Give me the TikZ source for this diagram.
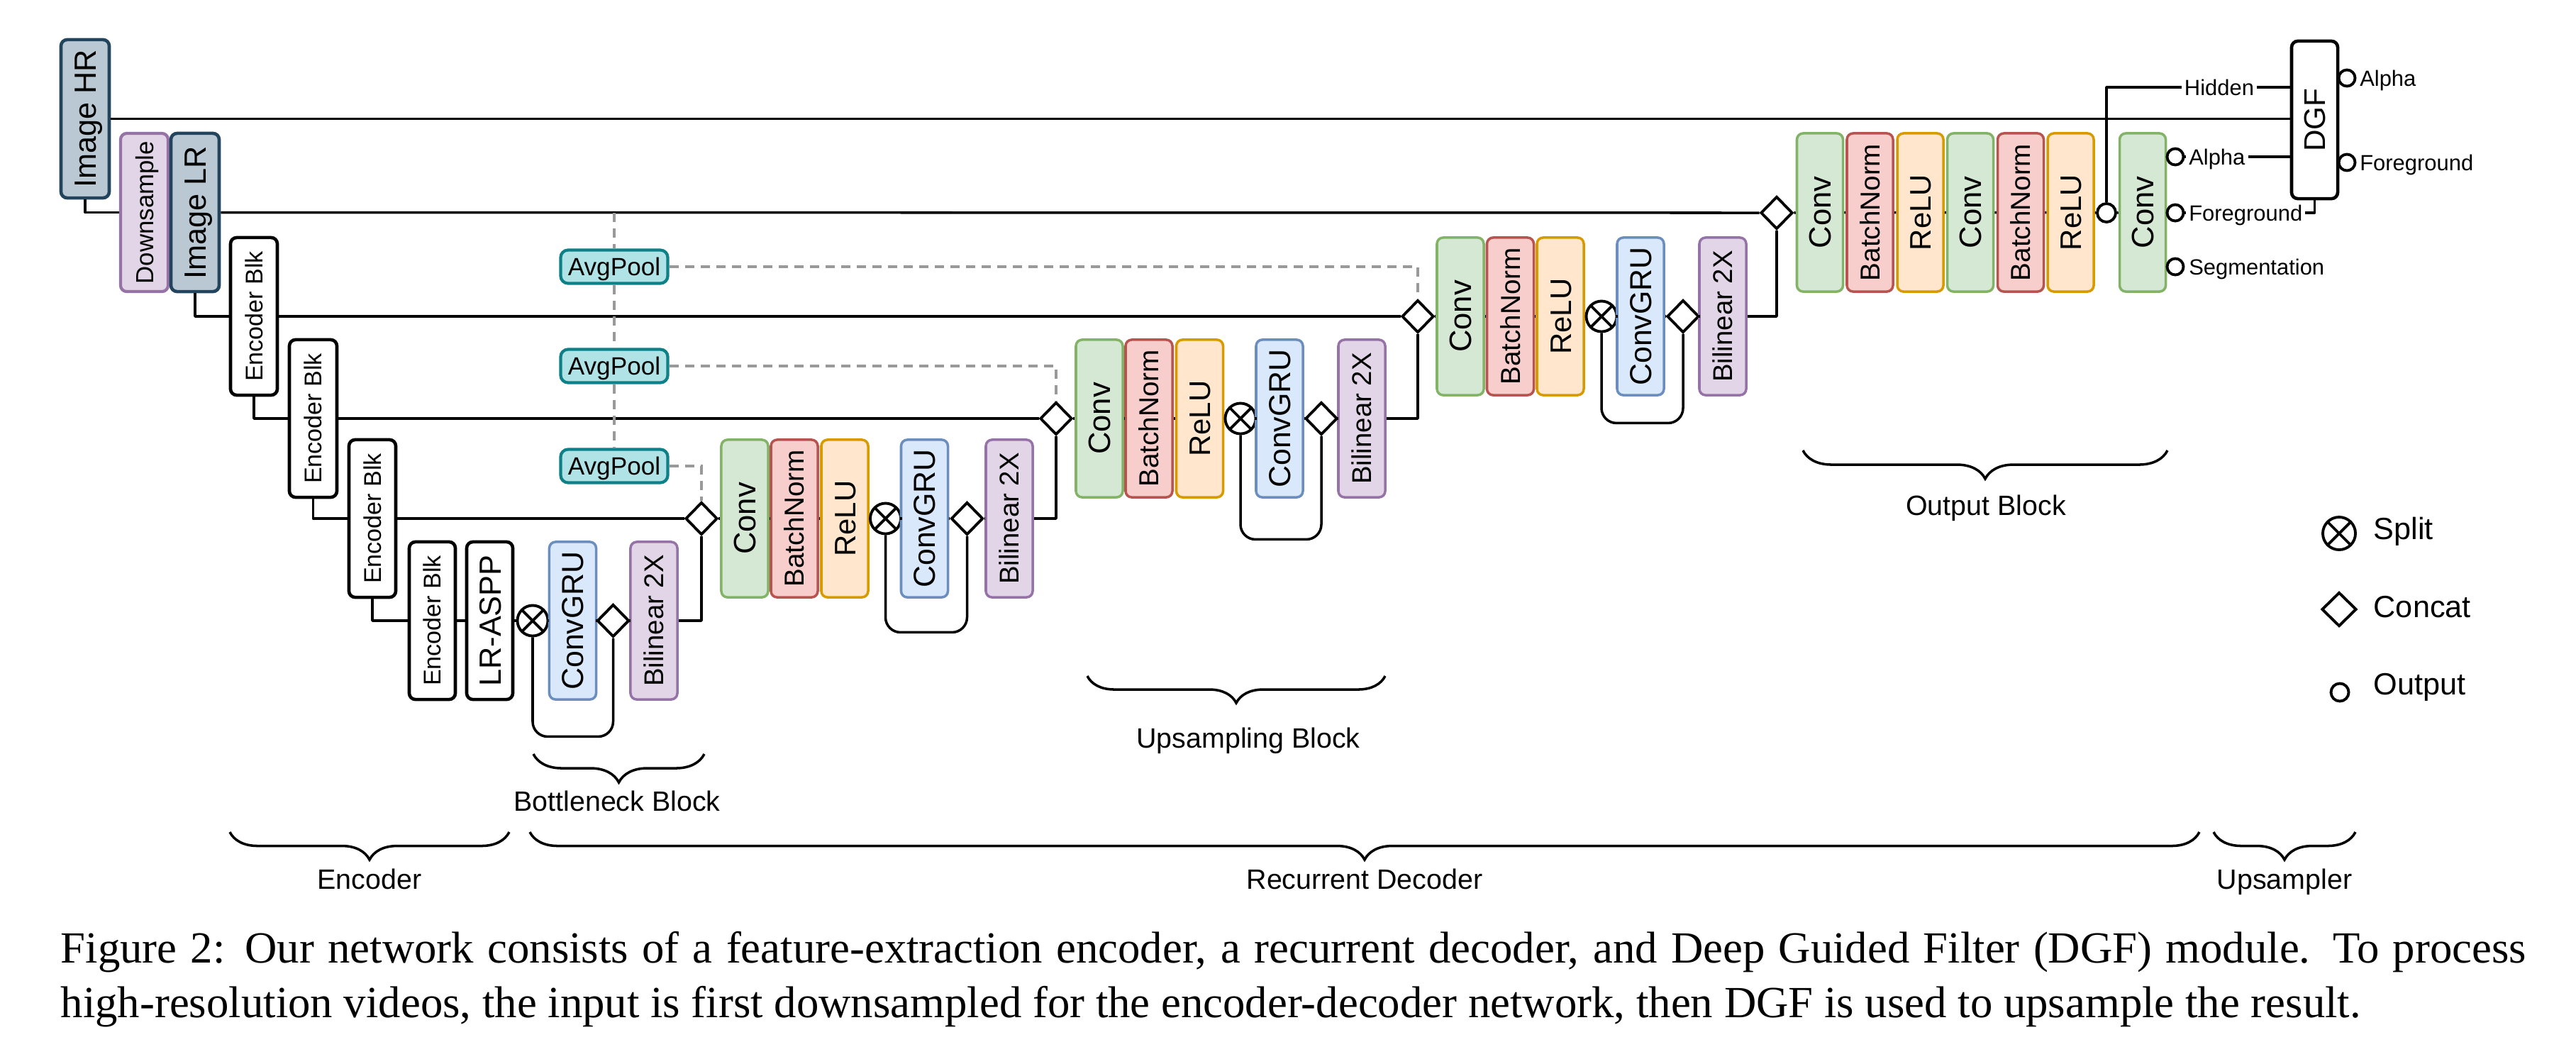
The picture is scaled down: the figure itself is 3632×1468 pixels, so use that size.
\documentclass[tikz,border=0pt]{standalone}
\usepackage{fontspec}
\setmainfont{Liberation Sans}
\newfontfamily\serifcap{Liberation Serif}
\usetikzlibrary{shapes.geometric,decorations.pathreplacing}
\definecolor{imgfill}{HTML}{BAC8D3}\definecolor{imgdraw}{HTML}{23445D}
\definecolor{purfill}{HTML}{E1D5E7}\definecolor{purdraw}{HTML}{9673A6}
\definecolor{grnfill}{HTML}{D5E8D4}\definecolor{grndraw}{HTML}{82B366}
\definecolor{redfill}{HTML}{F8CECC}\definecolor{reddraw}{HTML}{B85450}
\definecolor{orgfill}{HTML}{FFE6CC}\definecolor{orgdraw}{HTML}{D79B00}
\definecolor{blufill}{HTML}{DAE8FC}\definecolor{bludraw}{HTML}{6C8EBF}
\definecolor{tealfill}{HTML}{B0E3E6}\definecolor{tealdraw}{HTML}{0E8088}
\definecolor{dashgray}{HTML}{999999}
\newcommand\fs[1]{\fontsize{#1}{#1}\selectfont}
\newcommand\vlab[1]{\rotatebox{90}{\raisebox{-.36em}[.36em][.36em]{#1}}}
\tikzset{
  wire/.style={line width=1pt, line join=round},
  dashwire/.style={draw=dashgray, line width=0.9pt, dash pattern=on 0.13cm off 0.09cm},
  blkbase/.style={draw, rounded corners=2.5pt, line width=1pt, inner sep=0pt, minimum width=0.66cm, minimum height=2.22cm},
  imgbox/.style={blkbase, fill=imgfill, draw=imgdraw, line width=1.3pt, minimum width=0.68cm, minimum height=2.23cm, font={\fs{12.3}}},
  downbox/.style={blkbase, fill=purfill, draw=purdraw, line width=1.2pt, minimum width=0.67cm, minimum height=2.23cm, font={\fs{9.9}}},
  encbox/.style={blkbase, fill=white, line width=1.3pt, font={\fs{9.7}}},
  aspbox/.style={blkbase, fill=white, line width=1.3pt, font={\fs{12.3}}},
  convbox/.style={blkbase, fill=grnfill, draw=grndraw, font={\fs{12.4}}},
  bnbox/.style={blkbase, fill=redfill, draw=reddraw, font={\fs{11}}},
  relubox/.style={blkbase, fill=orgfill, draw=orgdraw, font={\fs{11.9}}},
  grubox/.style={blkbase, fill=blufill, draw=bludraw, font={\fs{12.2}}},
  bilbox/.style={blkbase, fill=purfill, draw=purdraw, font={\fs{10.9}}},
  outbox/.style={minimum width=0.65cm, minimum height=2.23cm},
  avgbox/.style={draw=tealdraw, fill=tealfill, rounded corners=3pt, line width=1.2pt, inner sep=0pt, minimum width=1.51cm, minimum height=0.47cm, font={\fs{10}}, text height=.716em, text depth=0pt},
  splitnode/.style={circle, draw, line width=1.1pt, fill=white, inner sep=0pt, minimum size=0.43cm,
    path picture={\draw[line width=1.1pt] (path picture bounding box.center) ++(45:0.3cm) -- ++(225:0.6cm)
      (path picture bounding box.center) ++(135:0.3cm) -- ++(-45:0.6cm);}},
  concatnode/.style={diamond, draw, line width=1.1pt, fill=white, inner sep=0pt, minimum width=0.45cm, minimum height=0.46cm},
  outnode/.style={circle, draw, line width=1.1pt, fill=white, inner sep=0pt, minimum size=0.23cm},
  smalllbl/.style={font={\fs{8.8}}, inner sep=1pt},
  bracelbl/.style={font={\fs{11.2}}, inner sep=0pt, anchor=base},
  legendlbl/.style={font={\fs{12.3}}, inner sep=0pt, anchor=base west},
  bracedeco/.style={line width=1pt, decorate, decoration={brace, mirror, amplitude=#1}},
}
\begin{document}
\begin{tikzpicture}[x=0.01cm, y=-0.01cm]
\useasboundingbox (0,0) rectangle (3632,1468);

% ---------- inputs and encoder ----------
\node[imgbox] (hr) at (120,167.5) {\vlab{Image HR}};
\node[downbox] (ds) at (203.5,299.5) {\vlab{Downsample}};
\node[imgbox] (lr) at (275,299.5) {\vlab{Image LR}};
\node[encbox] (e1) at (358,446) {\vlab{Encoder Blk}};
\node[encbox, minimum width=0.67cm] (e2) at (441.5,590) {\vlab{Encoder Blk}};
\node[encbox] (e3) at (525,731) {\vlab{Encoder Blk}};
\node[encbox, minimum width=0.65cm] (e4) at (609.5,875) {\vlab{Encoder Blk}};
\node[aspbox, minimum width=0.65cm] (asp) at (690.5,875) {\vlab{LR-ASPP}};

% ---------- bottleneck ----------
\node[splitnode] (sb) at (751,875) {};
\node[grubox] (gb) at (807.5,875) {\vlab{ConvGRU}};
\node[concatnode] (cb) at (864.5,875) {};
\node[bilbox] (bb) at (922,875) {\vlab{Bilinear 2X}};

% ---------- decoder stage 1 ----------
\node[concatnode] (d1) at (989,731) {};
\node[convbox] (c1) at (1050,731) {\vlab{Conv}};
\node[bnbox] (n1) at (1120,731) {\vlab{BatchNorm}};
\node[relubox] (r1) at (1191,731) {\vlab{ReLU}};
\node[splitnode] (s1) at (1248.5,731) {};
\node[grubox] (g1) at (1303.5,731) {\vlab{ConvGRU}};
\node[concatnode] (k1) at (1363.5,731) {};
\node[bilbox] (b1) at (1423,731) {\vlab{Bilinear 2X}};

% ---------- decoder stage 2 ----------
\node[concatnode] (d2) at (1489,590) {};
\node[convbox] (c2) at (1550,590) {\vlab{Conv}};
\node[bnbox] (n2) at (1620,590) {\vlab{BatchNorm}};
\node[relubox] (r2) at (1691.5,590) {\vlab{ReLU}};
\node[splitnode] (s2) at (1749,590) {};
\node[grubox] (g2) at (1804,590) {\vlab{ConvGRU}};
\node[concatnode] (k2) at (1863,590) {};
\node[bilbox] (b2) at (1920,590) {\vlab{Bilinear 2X}};

% ---------- decoder stage 3 ----------
\node[concatnode] (d3) at (1999,446) {};
\node[convbox] (c3) at (2059,446) {\vlab{Conv}};
\node[bnbox] (n3) at (2129.5,446) {\vlab{BatchNorm}};
\node[relubox] (r3) at (2200,446) {\vlab{ReLU}};
\node[splitnode] (s3) at (2258,446) {};
\node[grubox] (g3) at (2313,446) {\vlab{ConvGRU}};
\node[concatnode] (k3) at (2373,446) {};
\node[bilbox] (b3) at (2429,446) {\vlab{Bilinear 2X}};

% ---------- output block ----------
\node[concatnode] (d4) at (2505,300) {};
\node[convbox, outbox] (oc1) at (2566,299.5) {\vlab{Conv}};
\node[bnbox, outbox] (ob1) at (2636.5,299.5) {\vlab{BatchNorm}};
\node[relubox, outbox] (or1) at (2707.5,299.5) {\vlab{ReLU}};
\node[convbox, outbox] (oc2) at (2778,299.5) {\vlab{Conv}};
\node[bnbox, outbox] (ob2) at (2849,299.5) {\vlab{BatchNorm}};
\node[relubox, outbox] (or2) at (2919.5,299.5) {\vlab{ReLU}};
\node[outnode, minimum size=0.26cm] (o1) at (2970,300) {};
\node[convbox, outbox] (oc3) at (3021,299.5) {\vlab{Conv}};

% ---------- DGF ----------
\node[blkbase, fill=white, line width=1.3pt, minimum width=0.65cm, font={\fs{12}}] (dgf) at (3263.5,169) {\vlab{DGF}};

% ---------- AvgPool ----------
\node[avgbox] (ap1) at (866,376) {AvgPool};
\node[avgbox] (ap2) at (866,516) {AvgPool};
\node[avgbox] (ap3) at (866,657) {AvgPool};
\coordinate (aptop) at (866,300);

% ---------- encoder wiring ----------
\draw[wire] (hr.south) |- (ds.west);
\draw[wire] (lr.south) |- (e1.west);
\draw[wire] (e1.south) |- (e2.west);
\draw[wire] (e2.south) |- (e3.west);
\draw[wire] (e3.south) |- (e4.west);
\draw[wire] (hr.east) -- (dgf.west |- hr.east);
\draw[wire] (lr.east) -- (d4.west);
\draw[wire] (e1.east) -- (d3.west);
\draw[wire] (e2.east) -- (d2.west);
\draw[wire] (e3.east) -- (d1.west);

% ---------- chains ----------
\draw[wire] (e4) -- (asp) -- (sb) -- (gb) -- (cb) -- (bb);
\draw[wire] (d1) -- (c1) -- (n1) -- (r1) -- (s1) -- (g1) -- (k1) -- (b1);
\draw[wire] (d2) -- (c2) -- (n2) -- (r2) -- (s2) -- (g2) -- (k2) -- (b2);
\draw[wire] (d3) -- (c3) -- (n3) -- (r3) -- (s3) -- (g3) -- (k3) -- (b3);
\draw[wire] (d4) -- (oc1) -- (ob1) -- (or1) -- (oc2) -- (ob2) -- (or2) -- (o1) -- (oc3);

% ---------- loops ----------
\draw[wire, rounded corners=6pt] (sb.south) -- ++(0,140) -| (cb.south);
\draw[wire, rounded corners=6pt] (s1.south) -- ++(0,137) -| (k1.south);
\draw[wire, rounded corners=6pt] (s2.south) -- ++(0,147) -| (k2.south);
\draw[wire, rounded corners=6pt] (s3.south) -- ++(0,127) -| (k3.south);

% ---------- up connections ----------
\draw[wire] (bb.east) -| (d1.south);
\draw[wire] (b1.east) -| (d2.south);
\draw[wire] (b2.east) -| (d3.south);
\draw[wire] (b3.east) -| (d4.south);

% ---------- dashed AvgPool ----------
\draw[dashwire] (aptop) -- (ap1.north);
\draw[dashwire] (ap1.south) -- (ap2.north);
\draw[dashwire] (ap2.south) -- (ap3.north);
\draw[dashwire] (ap1.east) -| (d3.north);
\draw[dashwire] (ap2.east) -| (d2.north);
\draw[dashwire] (ap3.east) -| (d1.north);

% ---------- outputs ----------
\node[smalllbl] (hid) at (3129,123) {Hidden};
\draw[wire] (o1.north) |- (hid.west);
\draw[wire] (hid.east) -- (dgf.west |- hid.east);

\node[outnode] (oa) at (3067,221) {};
\node[outnode] (of) at (3067,300) {};
\node[outnode] (os) at (3067,376) {};
\node[smalllbl, anchor=base west] (oal) at (3082,232) {Alpha};
\node[smalllbl, anchor=base west] (ofl) at (3082,311) {Foreground};
\node[smalllbl, anchor=base west] (osl) at (3082,387) {Segmentation};
\draw[wire] (oa.east) -- (oal.west |- oa.east);
\draw[wire] (of.east) -- (ofl.west |- of.east);
\draw[wire] (oal.east |- oa.east) -- (dgf.west |- oa.east);
\draw[wire] (ofl.east |- of.east) -| (dgf.south);

\node[outnode] (da) at (3309,110) {};
\node[outnode] (df) at (3309,229) {};
\node[smalllbl, anchor=base west] (dal) at (3323,121) {Alpha};
\node[smalllbl, anchor=base west] (dfl) at (3323,240) {Foreground};

% ---------- braces ----------
\draw[bracedeco=0.40cm] (752,1063) -- (993,1063);
\node[bracelbl] (lblbn) at (870,1143) {Bottleneck Block};
\draw[bracedeco=0.38cm] (1533,953) -- (1953,953);
\node[bracelbl] (lblup) at (1760,1054) {Upsampling Block};
\draw[bracedeco=0.40cm] (2542,635) -- (3056,635);
\node[bracelbl] (lblout) at (2800,726) {Output Block};
\draw[bracedeco=0.39cm] (324,1173) -- (718,1173);
\node[bracelbl] (lblenc) at (521,1253) {Encoder};
\draw[bracedeco=0.39cm] (747,1173) -- (3101,1173);
\node[bracelbl] (lbldec) at (1924,1253) {Recurrent Decoder};
\draw[bracedeco=0.39cm] (3121,1173) -- (3321,1173);
\node[bracelbl] (lblups) at (3221,1253) {Upsampler};

% ---------- legend ----------
\node[splitnode, minimum size=0.46cm] (lgs) at (3298,752) {};
\node[concatnode, minimum width=0.49cm, minimum height=0.48cm] (lgc) at (3298,859) {};
\node[outnode, minimum size=0.25cm] (lgo) at (3299,976) {};
\node[legendlbl] (lgsl) at (3346,760) {Split};
\node[legendlbl] (lgcl) at (3346,870) {Concat};
\node[legendlbl] (lgol) at (3346,979) {Output};

% ---------- caption ----------
\node[anchor=base west, inner sep=0pt, font={\serifcap\fs{17.85}}] (cap1) at (85,1357)
  {\makebox[34.74cm][s]{Figure 2: Our network consists of a feature-extraction encoder, a recurrent decoder, and Deep Guided Filter (DGF) module. To process}};
\node[anchor=base west, inner sep=0pt, font={\serifcap\fs{17.85}}] (cap2) at (85,1434)
  {high-resolution videos, the input is first downsampled for the encoder-decoder network, then DGF is used to upsample the result.};
\end{tikzpicture}
\end{document}
